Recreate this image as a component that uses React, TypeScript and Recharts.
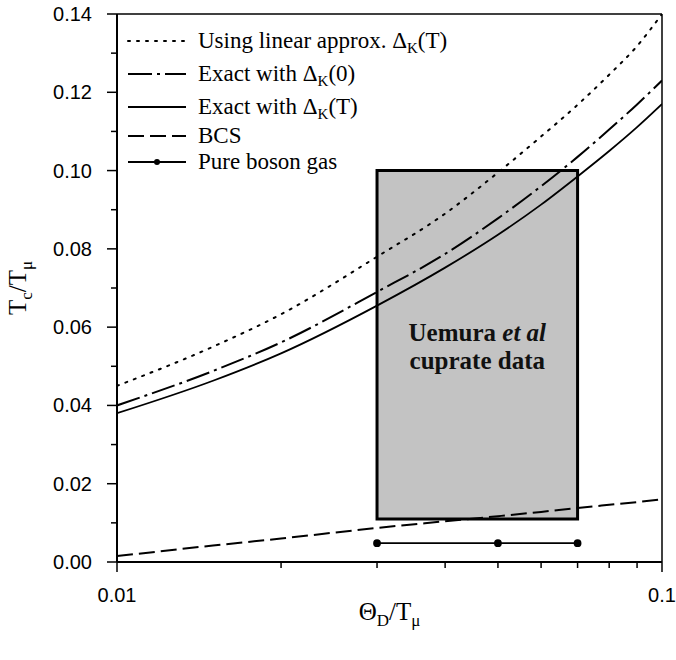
import { LineChart, Line, XAxis, YAxis, ReferenceArea, ReferenceLine } from "recharts"

// Theta_D / T_mu sample points (log axis)
const thetaD = [0.01, 0.015, 0.02, 0.03, 0.04, 0.05, 0.06, 0.07, 0.08, 0.09, 0.1]
// Tc / T_mu for each model
const linearApprox = [0.045, 0.055, 0.0633, 0.078, 0.089, 0.0995, 0.1087, 0.1168, 0.1245, 0.1318, 0.14]
const exactDelta0 = [0.04, 0.0488, 0.0561, 0.069, 0.0787, 0.0878, 0.096, 0.1035, 0.1105, 0.1169, 0.123]
const exactDeltaT = [0.038, 0.0463, 0.0533, 0.0655, 0.0752, 0.0836, 0.0913, 0.0985, 0.105, 0.1111, 0.117]
const bcs = [0.0015, 0.0042, 0.006, 0.0087, 0.0104, 0.0117, 0.0128, 0.0138, 0.0146, 0.0153, 0.016]
const bosonX = [0.03, 0.05, 0.07]
const bosonY = [0.0048, 0.0048, 0.0048]
// Uemura et al box
const cuprateX = [0.03, 0.07]
const cuprateY = [0.011, 0.1]

const xTicks = [0.01, 0.02, 0.03, 0.04, 0.05, 0.06, 0.07, 0.08, 0.09, 0.1]
const xMajor = [0.01, 0.1]
const yTicks = [0, 0.01, 0.02, 0.03, 0.04, 0.05, 0.06, 0.07, 0.08, 0.09, 0.1, 0.11, 0.12, 0.13, 0.14]

const toRows = (ys: number[], xs: number[] = thetaD) => xs.map((x, i) => ({ x, y: ys[i] }))

const sans = "'Liberation Sans', Arial, sans-serif"
const serif = "'Liberation Serif', 'Times New Roman', serif"

const XTick = (props: any) => {
  const { x, y, payload } = props
  const major = xMajor.includes(payload.value)
  return (
    <g>
      <line x1={x} y1={y} x2={x} y2={y + (major ? 10 : 6)} stroke="#000" strokeWidth={1.5} />
      {major && (
        <text x={x} y={y + 33} textAnchor="middle" dominantBaseline="central" fontFamily={sans} fontSize={20} fill="#000">
          {payload.value === 0.1 ? "0.1" : "0.01"}
        </text>
      )}
    </g>
  )
}

const YTick = (props: any) => {
  const { x, y, payload } = props
  const major = Math.round(payload.value * 100) % 2 === 0
  return (
    <g>
      <line x1={x} y1={y} x2={x - (major ? 10 : 6)} y2={y} stroke="#000" strokeWidth={1.5} />
      {major && (
        <text x={x - 25} y={y} textAnchor="end" dominantBaseline="central" fontFamily={sans} fontSize={20} fill="#000">
          {payload.value.toFixed(2)}
        </text>
      )}
    </g>
  )
}

const XTitle = (props: any) => {
  const { viewBox } = props
  const cx = viewBox.x + viewBox.width / 2
  return (
    <text x={cx} y={620} textAnchor="middle" fontFamily={serif} fontSize={25} fill="#000" stroke="none">
      Θ<tspan dy={6} fontSize={17}>D</tspan>
      <tspan dy={-6}>/T</tspan>
      <tspan dy={6} fontSize={17}>μ</tspan>
    </text>
  )
}

const YTitle = (props: any) => {
  const { viewBox } = props
  const cy = viewBox.y + viewBox.height / 2
  return (
    <text x={26} y={cy} transform={`rotate(-90 26 ${cy})`} textAnchor="middle" fontFamily={serif} fontSize={25} fill="#000" stroke="none">
      T<tspan dy={6} fontSize={17}>c</tspan>
      <tspan dy={-6}>/T</tspan>
      <tspan dy={6} fontSize={17}>μ</tspan>
    </text>
  )
}

const BoxLabel = (props: any) => {
  const { viewBox } = props
  const cx = viewBox.x + viewBox.width / 2
  const cy = viewBox.y + viewBox.height / 2
  return (
    <text textAnchor="middle" fontFamily={serif} fontSize={25} fontWeight="bold" fill="#111">
      <tspan x={cx} y={cy - 4}>
        Uemura <tspan fontStyle="italic">et al</tspan>
      </tspan>
      <tspan x={cx} y={cy + 24}>cuprate data</tspan>
    </text>
  )
}

const legendRows = [
  { top: 41, dash: "2 7", dot: false, text: "Using linear approx. ", sub: true },
  { top: 74, dash: "24 5 3 5", dot: false, text: "Exact with ", sub: true, arg: "(0)" },
  { top: 107, dash: "", dot: false, text: "Exact with ", sub: true, arg: "(T)" },
  { top: 136, dash: "16 6", dot: false, text: "BCS", sub: false },
  { top: 162, dash: "", dot: true, text: "Pure boson gas", sub: false },
]

const Legend = () => (
  <div style={{ position: "absolute", left: 0, top: 0, pointerEvents: "none" }}>
    {legendRows.map((r, i) => (
      <div key={i} style={{ position: "absolute", left: 126, top: r.top - 14, height: 28, display: "flex", alignItems: "center", whiteSpace: "nowrap" }}>
        <svg width={62} height={28}>
          <line x1={2} y1={14} x2={60} y2={14} stroke="#000" strokeWidth={2} strokeDasharray={r.dash || undefined} strokeLinecap={r.dash === "2 7" ? "round" : "butt"} />
          {r.dot && <circle cx={31} cy={14} r={3} fill="#000" />}
        </svg>
        <span style={{ marginLeft: 10, fontFamily: serif, fontSize: 23, color: "#000", lineHeight: "28px" }}>
          {r.text}
          {r.sub && (
            <>
              Δ<sub style={{ fontSize: 15, verticalAlign: "-5px", lineHeight: 0 }}>K</sub>
              {r.arg ?? "(T)"}
            </>
          )}
        </span>
      </div>
    ))}
  </div>
)

export default function App() {
  return (
    <div style={{ position: "absolute", left: 0, top: 0, width: 676, height: 660, background: "#fff" }}>
      <LineChart width={676} height={660} margin={{ top: 14, right: 14, bottom: 38, left: 57 }}>
        <XAxis
          dataKey="x"
          type="number"
          scale="log"
          domain={[0.01, 0.1]}
          ticks={xTicks}
          allowDataOverflow
          height={60}
          tickLine={false}
          tickSize={0}
          tickMargin={0}
          tick={<XTick />}
          axisLine={{ stroke: "#000", strokeWidth: 2 }}
          interval={0}
          label={<XTitle />}
        />
        <YAxis
          type="number"
          domain={[0, 0.14]}
          ticks={yTicks}
          allowDataOverflow
          width={60}
          tickLine={false}
          tickSize={0}
          tickMargin={0}
          tick={<YTick />}
          axisLine={{ stroke: "#000", strokeWidth: 2 }}
          interval={0}
          label={<YTitle />}
        />
        <ReferenceArea
          x1={cuprateX[0]}
          x2={cuprateX[1]}
          y1={cuprateY[0]}
          y2={cuprateY[1]}
          fill="#c3c3c3"
          fillOpacity={1}
          stroke="#000"
          strokeWidth={3}
          label={<BoxLabel />}
        />
        <ReferenceLine y={0.14} stroke="#000" strokeWidth={1.5} />
        <ReferenceLine x={0.1} stroke="#000" strokeWidth={1.5} />
        <Line data={toRows(linearApprox)} dataKey="y" type="monotone" stroke="#000" strokeWidth={2} strokeDasharray="2 7" strokeLinecap="round" dot={false} isAnimationActive={false} />
        <Line data={toRows(exactDelta0)} dataKey="y" type="monotone" stroke="#000" strokeWidth={2} strokeDasharray="24 5 3 5" dot={false} isAnimationActive={false} />
        <Line data={toRows(exactDeltaT)} dataKey="y" type="monotone" stroke="#000" strokeWidth={1.8} dot={false} isAnimationActive={false} />
        <Line data={toRows(bcs)} dataKey="y" type="monotone" stroke="#000" strokeWidth={2} strokeDasharray="16 6" dot={false} isAnimationActive={false} />
        <Line data={toRows(bosonY, bosonX)} dataKey="y" type="linear" stroke="#000" strokeWidth={1.8} dot={{ r: 3, fill: "#000", stroke: "#000" }} isAnimationActive={false} />
      </LineChart>
      <Legend />
    </div>
  )
}
